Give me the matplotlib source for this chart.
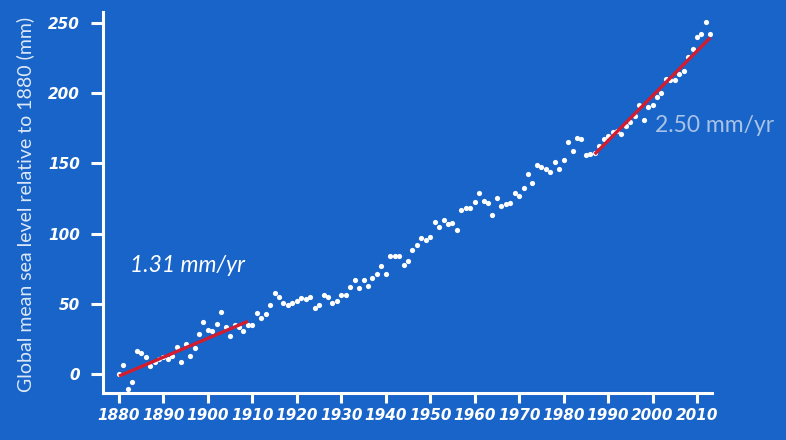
import numpy as np
import matplotlib
matplotlib.use('Agg')
import matplotlib.pyplot as plt

# ── DATA ──────────────────────────────────────────────────────────────────────
years = list(range(1880, 2014))
sea_level = [
    0.0, 6.4, -10.7, -5.5, 16.6, 15.0, 12.3, 5.9, 8.3, 10.7,          # 1880s
    12.0, 10.7, 12.8, 19.0, 8.5, 21.0, 13.0, 18.5, 28.7, 36.8,        # 1890s
    31.0, 30.6, 35.4, 43.9, 33.3, 27.0, 34.7, 33.3, 30.4, 34.9,       # 1900s
    34.9, 43.7, 40.1, 42.7, 49.1, 57.5, 55.0, 50.8, 48.9, 50.8,       # 1910s
    52.2, 54.1, 53.2, 54.6, 47.0, 48.9, 56.0, 54.6, 50.6, 52.0,       # 1920s
    56.5, 56.3, 62.2, 66.7, 61.0, 67.0, 62.7, 68.6, 71.2, 76.9,       # 1930s
    71.2, 84.3, 84.3, 84.3, 77.6, 80.5, 88.3, 91.9, 97.1, 95.4,       # 1940s
    97.8, 108.0, 104.9, 109.9, 106.8, 107.8, 102.3, 116.7, 118.0, 118.3,  # 1950s
    122.5, 129.0, 123.5, 121.6, 113.4, 125.2, 119.4, 120.9, 121.8, 129.1,  # 1960s
    127.0, 132.7, 142.5, 136.0, 148.9, 147.0, 145.8, 144.1, 150.8, 145.6,  # 1970s
    152.0, 165.1, 159.0, 168.3, 167.1, 156.1, 156.7, 157.5, 162.5, 167.1,  # 1980s
    169.6, 172.0, 173.3, 171.2, 176.2, 179.5, 183.5, 191.7, 181.1, 190.1,  # 1990s
    191.5, 197.5, 200.1, 209.9, 209.5, 209.4, 213.7, 216.0, 225.5, 231.5,  # 2000s
    240.0, 241.7, 250.7, 241.9,                                       # 2010s
]

# trend segments (end points)
trend1_years = [1880, 1909]
trend1_vals = [-1.5, 37.5]
trend2_years = [1987, 2013]
trend2_vals = [156.5, 239.5]
trend_labels = ['1.31 mm/yr', '2.50 mm/yr']

xticks = list(range(1880, 2011, 10))
yticks = [0, 50, 100, 150, 200, 250]

BG = '#1864c8'
RED = '#d21d30'

fig = plt.figure(figsize=(7.86, 4.40), dpi=100)
fig.patch.set_facecolor(BG)
ax = fig.add_axes([0.131, 0.107, 0.775, 0.866])
ax.set_facecolor(BG)

ax.scatter(years, sea_level, s=14, color='white', zorder=3, linewidths=0)
ax.plot(trend1_years, trend1_vals, color=RED, lw=2.4, zorder=4, solid_capstyle='butt')
ax.plot(trend2_years, trend2_vals, color=RED, lw=2.4, zorder=4, solid_capstyle='butt')

ax.set_xlim(1876.4, 2013.4)
ax.set_ylim(-13.5, 257.8)

for side in ['top', 'right']:
    ax.spines[side].set_visible(False)
for side in ['left', 'bottom']:
    ax.spines[side].set_color('white')
    ax.spines[side].set_linewidth(2.2)

ax.set_xticks(xticks)
ax.set_yticks(yticks)
ax.tick_params(axis='both', colors='white', width=2.2, direction='out')
ax.tick_params(axis='y', length=8.5, pad=8)
ax.tick_params(axis='x', length=7.5, pad=3)
for lab in ax.get_xticklabels() + ax.get_yticklabels():
    lab.set_family('DejaVu Sans')
    lab.set_fontweight('bold')
    lab.set_fontstyle('italic')
    lab.set_fontsize(11)

ax.text(1882.5, 77, trend_labels[0], color='white', fontsize=16.5,
        family='Lato', style='italic', va='center', ha='left')
ax.text(2000.6, 176.6, trend_labels[1], color='#a9c3e6', fontsize=16.5,
        family='Lato', va='center', ha='left', clip_on=False)

fig.text(0.032, 0.535, 'Global mean sea level relative to 1880 (mm)',
         rotation=90, color='#dce8f8', fontsize=14, family='Lato',
         ha='center', va='center')

fig.savefig('out.png', dpi=100, facecolor=BG)
